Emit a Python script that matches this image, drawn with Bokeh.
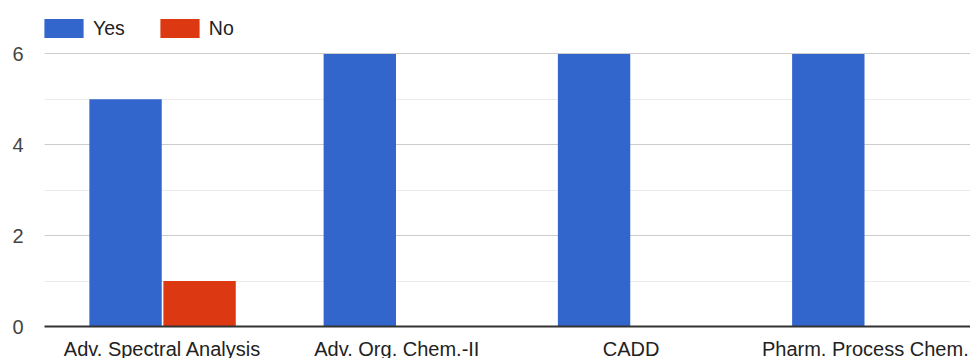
from bokeh.plotting import figure
from bokeh.models import ColumnDataSource, Range1d, FixedTicker, Legend, LegendItem
from bokeh.transform import dodge
from bokeh.embed import file_html
from bokeh.resources import INLINE

categories = ["Adv. Spectral Analysis", "Adv. Org. Chem.-II", "CADD", "Pharm. Process Chem."]
yes_values = [5, 6, 6, 6]
no_values = [1, 0, 0, 0]
y_ticks = [0, 2, 4, 6]
y_minor = [1, 3, 5, 7]

FONT = "Liberation Sans"
TEXT = "#444444"

src = ColumnDataSource(dict(
    x=list(range(len(categories))),
    yes=yes_values,
    no=no_values,
))

p = figure(frame_width=926, frame_height=318, output_backend="svg", toolbar_location=None,
           x_range=Range1d(-0.504, 3.449), y_range=Range1d(0, 7.0),
           min_border_left=44, min_border_right=0, min_border_top=8, min_border_bottom=0)
p.outline_line_color = None
p.background_fill_color = "white"

r_yes = p.vbar(x=dodge("x", -0.158, range=p.x_range), top="yes", width=0.309, source=src,
               fill_color="#3366cc", line_color=None)
r_no = p.vbar(x=dodge("x", 0.158, range=p.x_range), top="no", width=0.309, source=src,
              fill_color="#dc3912", line_color=None)

# y axis
p.yaxis.ticker = FixedTicker(ticks=y_ticks, minor_ticks=y_minor)
p.yaxis.axis_line_color = None
p.yaxis.major_tick_line_color = None
p.yaxis.minor_tick_line_color = None
p.yaxis.major_tick_out = 0
p.yaxis.minor_tick_out = 0
p.yaxis.major_label_standoff = 21
p.yaxis.major_label_text_font = FONT
p.yaxis.major_label_text_font_size = "20px"
p.yaxis.major_label_text_color = TEXT

p.ygrid.grid_line_color = "#cccccc"
p.ygrid.minor_grid_line_color = "#ebebeb"
p.xgrid.grid_line_color = None

# x axis
p.xaxis.ticker = FixedTicker(ticks=list(range(len(categories))))
p.xaxis.major_label_overrides = {i: c for i, c in enumerate(categories)}
p.xaxis.axis_line_color = "#333333"
p.xaxis.axis_line_width = 2
p.xaxis.major_tick_line_color = None
p.xaxis.minor_tick_line_color = None
p.xaxis.major_tick_out = 0
p.xaxis.minor_tick_out = 0
p.xaxis.major_label_standoff = 11
p.xaxis.major_label_text_font = FONT
p.xaxis.major_label_text_font_size = "20px"
p.xaxis.major_label_text_color = "#222222"

legend = Legend(items=[LegendItem(label="Yes", renderers=[r_yes]),
                       LegendItem(label="No", renderers=[r_no])],
                location=(-5, 286), orientation="horizontal",
                glyph_width=49, glyph_height=24, label_height=19,
                label_standoff=5, spacing=30, padding=0, margin=0,
                border_line_color=None, background_fill_alpha=0,
                label_text_font=FONT, label_text_font_size="19.5px",
                label_text_color="#222222")
p.add_layout(legend)

open("out.html", "w").write(file_html(p, INLINE))
